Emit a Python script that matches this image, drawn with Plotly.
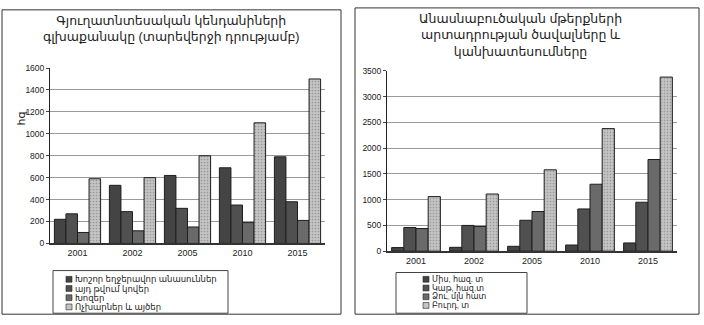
import plotly.graph_objects as go

W, H = 704, 325

# ---- data -------------------------------------------------------------
years = ["2001", "2002", "2005", "2010", "2015"]

# livestock head count (end of year), thousand heads
livestock_names = ["Խոշոր եղջերավոր անասուններ", "այդ թվում կովեր", "Խոզեր", "Ոչխարներ և այծեր"]
cattle = [220, 530, 620, 690, 790]
cows = [270, 290, 320, 350, 380]
pigs = [100, 115, 150, 190, 210]
sheep_goats = [590, 600, 800, 1100, 1500]

# livestock products output and forecasts
product_names = ["Միս, հազ. տ", "Կաթ, հազ.տ", "Ձու, մլն հատ", "Բուրդ, տ"]
meat = [70, 75, 95, 120, 160]
milk = [460, 500, 600, 820, 950]
eggs = [440, 480, 770, 1300, 1780]
wool = [1060, 1110, 1580, 2380, 3380]

left_title = "Գյուղատնտեսական կենդանիների<br>գլխաքանակը (տարեվերջի դրությամբ)"
right_title = "Անասնաբուծական մթերքների<br>արտադրության ծավալները և<br>կանխատեսումները"
left_unit = "հզ"

# ---- styling ----------------------------------------------------------
FONT = "Arial, Liberation Sans, DejaVu Sans, sans-serif"
fills = ["#444444", "#505050", "#6a6a6a", "#c4c4c4"]
patterns = ["", "", "", "."]


def px(x):
    return x / W


def py(y):
    return 1 - y / H


fig = go.Figure()


def add_series(values_list, names, xa, ya):
    for vals, name, col, pat in zip(values_list, names, fills, patterns):
        fig.add_trace(go.Bar(
            x=years, y=vals, name=name, xaxis=xa, yaxis=ya,
            marker=dict(color=col, line=dict(color="#1e1e1e", width=1),
                        pattern=dict(shape=pat, fgcolor="#6a6a6a", bgcolor=col,
                                     size=3, solidity=0.25)),
            showlegend=False,
        ))


add_series([cattle, cows, pigs, sheep_goats], livestock_names, "x", "y")
add_series([meat, milk, eggs, wool], product_names, "x2", "y2")

axis_common = dict(showline=True, linecolor="#222", ticks="outside", ticklen=3,
                   tickcolor="#444", tickfont=dict(family=FONT, size=8.5, color="#222"))

fig.update_layout(
    width=W, height=H, margin=dict(l=0, r=0, t=0, b=0),
    paper_bgcolor="white", plot_bgcolor="white",
    barmode="group", bargap=0.16, bargroupgap=0.0,
    showlegend=False,
    xaxis=dict(domain=[px(50), px(325)], anchor="y", showgrid=False,
               showline=True, linecolor="#333", linewidth=2, ticks="",
               tickfont=dict(family=FONT, size=9, color="#222")),
    yaxis=dict(domain=[py(246), py(65)], anchor="x", range=[0, 1600], dtick=200,
               showgrid=True, gridcolor="#9a9a9a", gridwidth=1, zeroline=False,
               **axis_common),
    xaxis2=dict(domain=[px(387), px(677)], anchor="y2", showgrid=False,
                showline=True, linecolor="#333", linewidth=2, ticks="",
                tickfont=dict(family=FONT, size=9, color="#222")),
    yaxis2=dict(domain=[py(254), py(68)], anchor="x2", range=[0, 3500], dtick=500,
                showgrid=True, gridcolor="#9a9a9a", gridwidth=1, zeroline=False,
                **axis_common),
)

shapes = []
annotations = []

# panel frames
shapes.append(dict(type="rect", xref="paper", yref="paper",
                   x0=px(2), x1=px(341), y0=py(319), y1=py(5),
                   line=dict(color="#333", width=1)))
shapes.append(dict(type="rect", xref="paper", yref="paper",
                   x0=px(355), x1=px(699), y0=py(319), y1=py(3),
                   line=dict(color="#333", width=1)))

# titles
annotations.append(dict(text=left_title, xref="paper", yref="paper",
                        x=px(171), y=py(7), xanchor="center", yanchor="top",
                        showarrow=False, align="center",
                        font=dict(family=FONT, size=12.5, color="#222")))
annotations.append(dict(text=right_title, xref="paper", yref="paper",
                        x=px(520), y=py(5), xanchor="center", yanchor="top",
                        showarrow=False, align="center",
                        font=dict(family=FONT, size=12.5, color="#222")))

# unit label of left value axis
annotations.append(dict(text=left_unit, xref="paper", yref="paper",
                        x=px(13), y=py(117), textangle=-90, showarrow=False,
                        font=dict(family=FONT, size=11, color="#222")))


def legend_block(names, box, first_y, step, mark_x, size):
    x0, y0, x1, y1 = box
    shapes.append(dict(type="rect", xref="paper", yref="paper",
                       x0=px(x0), x1=px(x1), y0=py(y1), y1=py(y0),
                       line=dict(color="#444", width=1)))
    for i, (name, col) in enumerate(zip(names, fills)):
        yc = first_y + i * step
        shapes.append(dict(type="rect", xref="paper", yref="paper",
                           x0=px(mark_x), x1=px(mark_x + 6),
                           y0=py(yc + 3), y1=py(yc - 3),
                           fillcolor=col, line=dict(color="#222", width=0.6)))
        annotations.append(dict(text=name, xref="paper", yref="paper",
                                x=px(mark_x + 7), y=py(yc), xanchor="left",
                                yanchor="middle", showarrow=False,
                                font=dict(family=FONT, size=size, color="#222")))


legend_block(livestock_names, (53, 274, 228, 318), 283, 9.5, 66, 8.5)
legend_block(product_names, (396, 276, 527, 318), 283, 9, 423, 8)

fig.update_layout(shapes=shapes, annotations=annotations)

fig.write_html("out.html")
